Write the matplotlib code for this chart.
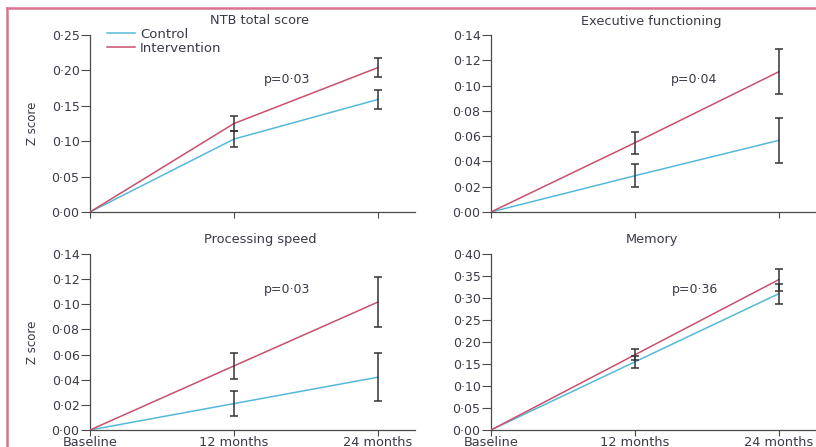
import numpy as np
import matplotlib
matplotlib.use('Agg')
import matplotlib.pyplot as plt
from matplotlib.lines import Line2D

plt.rcParams['font.family'] = ['DejaVu Sans']

timepoints = ['Baseline', '12 months', '24 months']

# panel titles, p values and y ranges
titles = ['NTB total score', 'Executive functioning', 'Processing speed', 'Memory']
p_values = ['p=0·03', 'p=0·04', 'p=0·03', 'p=0·36']
y_max = [0.25, 0.14, 0.14, 0.40]
y_step = [0.05, 0.02, 0.02, 0.05]

# mean z score change and error (half width of bar)
control_ntb = [0.0, 0.103, 0.159]
control_ntb_err = [0.0, 0.011, 0.014]
interv_ntb = [0.0, 0.125, 0.204]
interv_ntb_err = [0.0, 0.011, 0.014]

control_exec = [0.0, 0.0287, 0.0567]
control_exec_err = [0.0, 0.009, 0.018]
interv_exec = [0.0, 0.0548, 0.1110]
interv_exec_err = [0.0, 0.0087, 0.018]

control_speed = [0.0, 0.021, 0.042]
control_speed_err = [0.0, 0.010, 0.019]
interv_speed = [0.0, 0.051, 0.1018]
interv_speed_err = [0.0, 0.0103, 0.020]

control_mem = [0.0, 0.155, 0.310]
control_mem_err = [0.0, 0.013, 0.0225]
interv_mem = [0.0, 0.171, 0.342]
interv_mem_err = [0.0, 0.012, 0.025]

control_all = [(control_ntb, control_ntb_err), (control_exec, control_exec_err),
               (control_speed, control_speed_err), (control_mem, control_mem_err)]
interv_all = [(interv_ntb, interv_ntb_err), (interv_exec, interv_exec_err),
              (interv_speed, interv_speed_err), (interv_mem, interv_mem_err)]

W, H = 816, 447
fig = plt.figure(figsize=(W / 100, H / 100), dpi=100)
fig.patch.set_facecolor('white')

c_control = '#55b9d8'
c_interv = '#c9506c'
c_text = '#3a3a48'
c_axis = '#4a4a4a'
c_border = '#d8748e'

# pixel boxes: (left, y of zero, height)
boxes = [(90, 212, 177), (491, 212, 177), (90, 430, 176), (491, 430, 176)]
ax_w = 325
title_x = [260, 651, 260, 652]
p_x = [264, 671, 264, 672]
p_y = [80, 80, 289, 289]
title_y = [21, 21, 239, 239]

x = np.arange(len(timepoints))

for i in range(4):
    left, y0, h = boxes[i]
    ax = fig.add_axes([left / W, (H - y0) / H, ax_w / W, h / H])
    ax.set_facecolor('none')
    cm, ce = control_all[i]
    im, ie = interv_all[i]
    ax.plot(x, cm, color=c_control, lw=1.1, label='Control', zorder=3)
    ax.plot(x, im, color=c_interv, lw=1.1, label='Intervention', zorder=3)
    ax.errorbar(x[1:], cm[1:], yerr=ce[1:], fmt='none', ecolor='#333333',
                elinewidth=1.1, capsize=2.7, capthick=1.1, zorder=4)
    ax.errorbar(x[1:], im[1:], yerr=ie[1:], fmt='none', ecolor='#333333',
                elinewidth=1.1, capsize=2.7, capthick=1.1, zorder=4)

    ax.set_xlim(0, ax_w / 144)
    ax.set_ylim(0, y_max[i])
    ticks = np.arange(0, y_max[i] + 1e-9, y_step[i])
    ax.set_yticks(ticks)
    ax.set_yticklabels([f'{t:.2f}'.replace('.', '·') for t in ticks])
    ax.set_xticks(x)
    if i >= 2:
        ax.set_xticklabels(timepoints)
    else:
        ax.set_xticklabels([])

    for s in ['top', 'right']:
        ax.spines[s].set_visible(False)
    for s in ['left', 'bottom']:
        ax.spines[s].set_color(c_axis)
        ax.spines[s].set_linewidth(0.9)
    ax.tick_params(axis='y', direction='out', length=6.5, width=0.8,
                   color=c_axis, labelcolor=c_text, labelsize=9, pad=1)
    ax.tick_params(axis='x', direction='out', length=4, width=0.8,
                   color=c_axis, labelcolor=c_text, labelsize=9.3, pad=0.2)

    ax.text((title_x[i] - left) / ax_w, (y0 - title_y[i]) / h, titles[i],
            transform=ax.transAxes, ha='center', va='center',
            fontsize=9.3, color=c_text)
    ax.text((p_x[i] - left) / ax_w, (y0 - p_y[i]) / h, p_values[i],
            transform=ax.transAxes, ha='left', va='center',
            fontsize=9, color=c_text)

    if i % 2 == 0:
        ax.set_ylabel('Z score', fontsize=8.5, color=c_text,
                      family=['Liberation Sans Narrow', 'DejaVu Sans'],
                      labelpad=9)

    if i == 0:
        ax.legend(loc='upper left', bbox_to_anchor=(107 / W, 1 - 28 / H),
                  bbox_transform=fig.transFigure, frameon=False, fontsize=9.5,
                  handlelength=2.1, handletextpad=0.4, labelspacing=0.05,
                  borderpad=0, borderaxespad=0, labelcolor=c_text)

# pink frame at top and left
fig.add_artist(Line2D([7 / W, 7 / W], [0, 1 - 8 / H], color=c_border, lw=1.8,
                      transform=fig.transFigure))
fig.add_artist(Line2D([7 / W, 1], [1 - 8 / H, 1 - 8 / H], color=c_border, lw=1.8,
                      transform=fig.transFigure))

fig.savefig('out.png', dpi=100)
